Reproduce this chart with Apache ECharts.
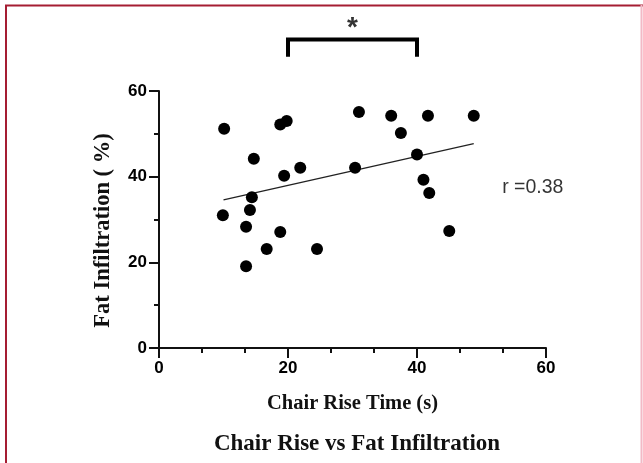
<!DOCTYPE html>
<html>
<head>
<meta charset="utf-8">
<script src="https://cdn.jsdelivr.net/npm/echarts@6/dist/echarts.min.js"></script>
<style>html,body{margin:0;padding:0;background:#fff}#c{width:643px;height:463px}</style>
</head>
<body>
<div id="c"></div>
<script>
// Chair rise time (s)
const chairRise = [10.1, 9.9, 13.5, 13.5, 14.1, 14.4, 14.7, 16.7, 18.8, 18.8, 19.8, 19.4, 21.9, 24.5, 30.4, 31.0, 36.0, 37.5, 40.0, 41.0, 41.7, 41.9, 45.0, 48.8];
// Fat infiltration (%)
const fatInfiltration = [51.2, 31.0, 28.3, 19.1, 32.2, 35.2, 44.2, 23.1, 27.1, 52.2, 53.0, 40.2, 42.1, 23.1, 42.1, 55.1, 54.2, 50.2, 45.2, 39.3, 54.2, 36.2, 27.3, 54.2];
// regression line endpoints
const fitX = [10, 48.8];
const fitY = [34.6, 47.7];
// significance bracket
const bracketX = [20, 20, 40, 40];
const bracketY = [68, 72, 72, 68];
const starPos = [30, 75.6];
const rLabelPos = [53.2, 37.4];
const xTicks = [0, 20, 40, 60];
const yTicks = [0, 20, 40, 60];

const points = chairRise.map((x, i) => [x, fatInfiltration[i]]);
const fit = fitX.map((x, i) => [x, fitY[i]]);
const bracket = bracketX.map((x, i) => [x, bracketY[i]]);

const chart = echarts.init(document.getElementById('c'));
const tickFont = {fontFamily: 'Liberation Sans', fontWeight: 'bold', fontSize: 17, color: '#000'};
chart.setOption({
  animation: false,
  grid: {left: 159, right: 97, top: 91, bottom: 115},
  title: {
    text: 'Chair Rise vs Fat Infiltration',
    left: 352, top: 428, textAlign: 'center',
    textStyle: {fontFamily: 'Liberation Serif', fontWeight: 'bold', fontSize: 23, color: '#111'}
  },
  graphic: [
    {type: 'line', shape: {x1: 6, y1: 5, x2: 6, y2: 463}, style: {stroke: '#a51d32', lineWidth: 2}},
    {type: 'line', shape: {x1: 5, y1: 5.5, x2: 643, y2: 5.5}, style: {stroke: '#a51d32', lineWidth: 2}},
    {type: 'line', shape: {x1: 641.5, y1: 5, x2: 641.5, y2: 463}, style: {stroke: '#f2b9c6', lineWidth: 2}}
  ],
  xAxis: {
    type: 'value', min: 0, max: 60, interval: 20,
    name: 'Chair Rise Time (s)', nameLocation: 'middle', nameGap: 45,
    nameTextStyle: {fontFamily: 'Liberation Serif', fontWeight: 'bold', fontSize: 20.5, color: '#111'},
    axisLine: {onZero: false, lineStyle: {color: '#111', width: 2}},
    axisTick: {show: true, length: 10, lineStyle: {color: '#111', width: 2}},
    minorTick: {show: true, splitNumber: 3, length: 5, lineStyle: {color: '#111', width: 2}},
    splitLine: {show: false},
    axisLabel: Object.assign({margin: 12}, tickFont)
  },
  yAxis: {
    type: 'value', min: 0, max: 60, interval: 20,
    name: 'Fat Infiltration ( %)', nameLocation: 'middle', nameGap: 44, nameRotate: 90,
    nameTextStyle: {fontFamily: 'Liberation Serif', fontWeight: 'bold', fontSize: 22.5, color: '#111', padding: [0, 22, 0, 0]},
    axisLine: {onZero: false, lineStyle: {color: '#111', width: 2}},
    axisTick: {show: true, length: 10, lineStyle: {color: '#111', width: 2}},
    minorTick: {show: true, splitNumber: 2, length: 5, lineStyle: {color: '#111', width: 2}},
    splitLine: {show: false},
    axisLabel: Object.assign({margin: 12}, tickFont)
  },
  series: [
    {type: 'scatter', data: points, symbolSize: 12, itemStyle: {color: '#000', opacity: 1}, z: 3},
    {type: 'line', data: fit, symbol: 'none', lineStyle: {color: '#222', width: 1.3}, z: 2},
    {type: 'line', data: bracket, symbol: 'none', clip: false, lineStyle: {color: '#000', width: 4, join: 'miter'}},
    {type: 'scatter', data: [starPos], symbolSize: 0, clip: false,
     label: {show: true, formatter: '*', position: 'inside', fontFamily: 'Liberation Sans', fontWeight: 'bold', fontSize: 28, color: '#000', offset: [0, 4]}},
    {type: 'scatter', data: [rLabelPos], symbolSize: 0, clip: false,
     label: {show: true, formatter: 'r =0.38', position: 'right', distance: 0, fontFamily: 'Liberation Sans', fontSize: 19.5, color: '#000'}}
  ]
});
</script>
</body>
</html>
